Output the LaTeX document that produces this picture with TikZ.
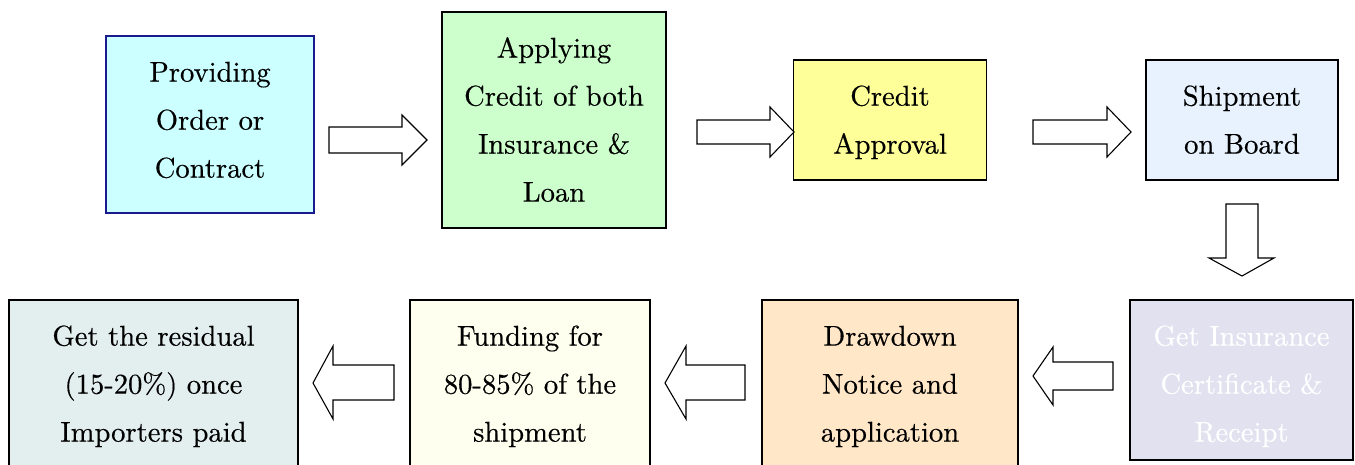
\documentclass[tikz,border=0pt]{standalone}
\usepackage{fontspec}
\setmainfont{lmroman10-regular}[Extension=.otf, FakeBold=0.4]
\definecolor{fillA}{HTML}{CCFFFF}
\definecolor{edgeA}{HTML}{1A1A8C}
\definecolor{fillB}{HTML}{CCFFCC}
\definecolor{fillC}{HTML}{FFFF99}
\definecolor{fillD}{HTML}{E8F2FF}
\definecolor{fillE}{HTML}{E1E1F0}
\definecolor{fillF}{HTML}{FFE7C8}
\definecolor{fillG}{HTML}{FFFFF0}
\definecolor{fillH}{HTML}{E3EFEE}
% centred lines with struts, so every block centres on its full line boxes
\newcommand\steplines[1]{\begin{tabular}{@{}c@{}}#1\end{tabular}}
% the same, moved up (or down) while its box keeps its place
\newcommand\shiftedlines[2]{\raisebox{#1}[\height][\depth]{\steplines{#2}}}
\begin{document}
\begin{tikzpicture}[x=1pt,y=-1pt,
  stepbox/.style={draw=black, line width=1.3pt, inner sep=0pt,
    font=\fontsize{28.6}{48}\selectfont},
  blockarrow/.style={draw=black, fill=white, line width=1.1pt, line join=miter}]
\useasboundingbox (0,0) rectangle (1355,464);

% top row, left to right
\node[stepbox, draw=edgeA, fill=fillA, minimum width=208, minimum height=177] (order) at (210,124.5)
  {\shiftedlines{4.5pt}{Providing\\Order or\\Contract}};
\node[stepbox, fill=fillB, minimum width=224, minimum height=216] (apply) at (554,120)
  {\steplines{Applying\\Credit of both\\Insurance \&\\Loan}};
\node[stepbox, fill=fillC, minimum width=193, minimum height=120] (approve) at (890,120)
  {\steplines{Credit\\Approval}};
\node[stepbox, fill=fillD, minimum width=192, minimum height=120] (ship) at (1242,120)
  {\steplines{Shipment\\on Board}};

% bottom row, right to left
\node[stepbox, fill=fillE, text=white, minimum width=223, minimum height=160] (cert) at (1241.5,380)
  {\shiftedlines{-4pt}{Get Insurance\\Certificate \&\\Receipt}};
\node[stepbox, fill=fillF, minimum width=256, minimum height=168] (draw) at (890,384)
  {\steplines{Drawdown\\Notice and\\application}};
\node[stepbox, fill=fillG, minimum width=240, minimum height=168] (fund) at (530,384)
  {\steplines{Funding for\\80-85\% of the\\shipment}};
\node[stepbox, fill=fillH, minimum width=289, minimum height=168] (residual) at (153.5,384)
  {\steplines{Get the residual\\(15-20\%) once\\Importers paid}};

% block arrows between the steps
\draw[blockarrow] (329,127) -- (402,127) -- (402,115) -- (427,140) -- (402,165) -- (402,153) -- (329,153) -- cycle;
\draw[blockarrow] (697,120) -- (770,120) -- (770,107) -- (794,132) -- (770,157) -- (770,144) -- (697,144) -- cycle;
\draw[blockarrow] (1033,120) -- (1107,120) -- (1107,107) -- (1131,132) -- (1107,157) -- (1107,144) -- (1033,144) -- cycle;
\draw[blockarrow] (1226,204) -- (1258,204) -- (1258,258) -- (1274,258) -- (1242,276) -- (1209,258) -- (1226,258) -- cycle;
\draw[blockarrow] (1113,362) -- (1053,362) -- (1053,347) -- (1033,376) -- (1053,405) -- (1053,390) -- (1113,390) -- cycle;
\draw[blockarrow] (745,365) -- (686,365) -- (686,346) -- (665,383) -- (686,419) -- (686,400) -- (745,400) -- cycle;
\draw[blockarrow] (394,365) -- (333,365) -- (333,346) -- (313,383) -- (333,419) -- (333,400) -- (394,400) -- cycle;
\end{tikzpicture}
\end{document}
